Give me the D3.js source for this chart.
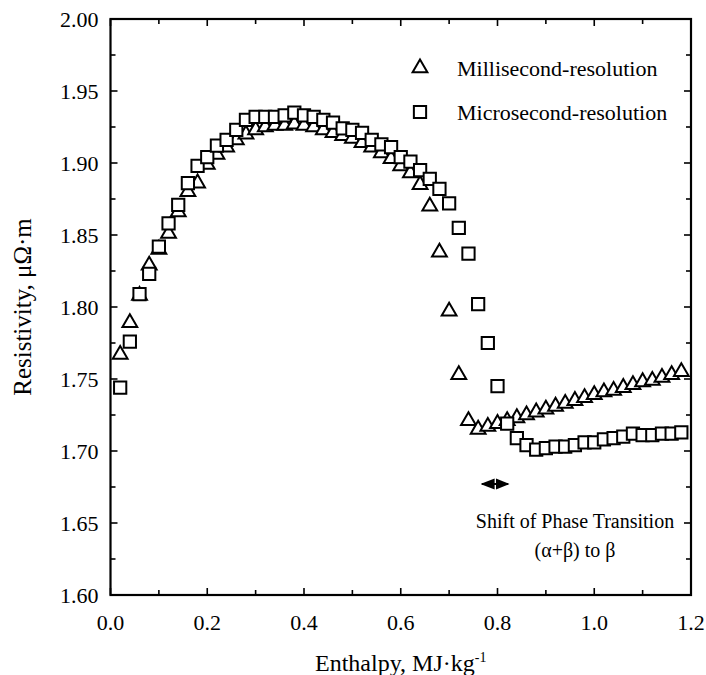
<!DOCTYPE html>
<html><head><meta charset="utf-8">
<script src="https://cdn.jsdelivr.net/npm/d3@7"></script>
<style>body{margin:0;background:#fff}svg{display:block}text{font-family:"Liberation Serif","Times New Roman",serif;fill:#000}</style>
</head><body><div id="chart"></div>
<script>
const msX = [0.02,0.04,0.06,0.08,0.10,0.12,0.14,0.16,0.18,0.20,0.22,0.24,0.26,0.28,0.30,0.32,0.34,0.36,0.38,0.40,0.42,0.44,0.46,0.48,0.50,0.52,0.54,0.56,0.58,0.60,0.62,0.64,0.66,0.68,0.70,0.72,0.74,0.76,0.78,0.80,0.82,0.84,0.86,0.88,0.90,0.92,0.94,0.96,0.98,1.00,1.02,1.04,1.06,1.08,1.10,1.12,1.14,1.16,1.18];
const msY = [1.767,1.789,1.808,1.829,1.840,1.851,1.866,1.880,1.886,1.899,1.906,1.911,1.916,1.920,1.923,1.925,1.926,1.926,1.927,1.926,1.925,1.923,1.921,1.919,1.917,1.914,1.911,1.907,1.903,1.898,1.893,1.885,1.870,1.838,1.797,1.753,1.721,1.715,1.717,1.719,1.721,1.723,1.725,1.727,1.729,1.731,1.733,1.735,1.737,1.739,1.741,1.742,1.744,1.746,1.748,1.749,1.751,1.753,1.755];
const usX = [0.02,0.04,0.06,0.08,0.10,0.12,0.14,0.16,0.18,0.20,0.22,0.24,0.26,0.28,0.30,0.32,0.34,0.36,0.38,0.40,0.42,0.44,0.46,0.48,0.50,0.52,0.54,0.56,0.58,0.60,0.62,0.64,0.66,0.68,0.70,0.72,0.74,0.76,0.78,0.80,0.82,0.84,0.86,0.88,0.90,0.92,0.94,0.96,0.98,1.00,1.02,1.04,1.06,1.08,1.10,1.12,1.14,1.16,1.18];
const usY = [1.744,1.776,1.809,1.823,1.842,1.858,1.871,1.886,1.898,1.904,1.912,1.916,1.923,1.930,1.932,1.932,1.932,1.933,1.935,1.933,1.932,1.930,1.928,1.924,1.923,1.921,1.916,1.913,1.911,1.904,1.901,1.895,1.889,1.882,1.872,1.855,1.837,1.802,1.775,1.745,1.719,1.709,1.704,1.701,1.702,1.703,1.703,1.704,1.706,1.706,1.708,1.709,1.710,1.712,1.711,1.711,1.712,1.712,1.713];
const xTicks = [0.0,0.2,0.4,0.6,0.8,1.0,1.2];
const yTicks = [1.60,1.65,1.70,1.75,1.80,1.85,1.90,1.95,2.00];
const seriesNames = ["Millisecond-resolution","Microsecond-resolution"];
const xTitle = "Enthalpy, MJ\u00B7kg";
const yTitle = "Resistivity, \u03BC\u03A9\u00B7m";
const noteLines = ["Shift of Phase Transition","(\u03B1+\u03B2) to \u03B2"];
const arrowRange = [0.768,0.822];

const W=706,H=675, L=110.5, R=691, T=19, B=595;
const svg=d3.select("#chart").append("svg").attr("width",W).attr("height",H);
const x=d3.scaleLinear().domain([0,1.2]).range([L,R]);
const y=d3.scaleLinear().domain([1.60,2.00]).range([B,T]);

const minorX=d3.range(0,13).map(i=>i*0.1);
const minorY=d3.range(0,17).map(i=>1.6+i*0.025);
const g=svg.append("g");
minorX.forEach((v,i)=>{const len=(i%2===0)?7:5;
  g.append("line").attr("x1",x(v)).attr("x2",x(v)).attr("y1",B).attr("y2",B-len).attr("stroke","#000").attr("stroke-width",1.6);
  g.append("line").attr("x1",x(v)).attr("x2",x(v)).attr("y1",T).attr("y2",T+len).attr("stroke","#000").attr("stroke-width",1.6);});
minorY.forEach((v,i)=>{const len=(i%2===0)?7:5;
  g.append("line").attr("x1",L).attr("x2",L+len).attr("y1",y(v)).attr("y2",y(v)).attr("stroke","#000").attr("stroke-width",1.6);
  g.append("line").attr("x1",R).attr("x2",R-len).attr("y1",y(v)).attr("y2",y(v)).attr("stroke","#000").attr("stroke-width",1.6);});
g.append("rect").attr("x",L).attr("y",T).attr("width",R-L).attr("height",B-T).attr("fill","none").attr("stroke","#000").attr("stroke-width",2.2);

svg.selectAll(".xl").data(xTicks).enter().append("text").attr("x",d=>x(d)).attr("y",B+35)
  .attr("text-anchor","middle").attr("font-size",22).text(d=>d.toFixed(1));
svg.selectAll(".yl").data(yTicks).enter().append("text").attr("x",L-12).attr("y",d=>y(d)+7.5)
  .attr("text-anchor","end").attr("font-size",22).text(d=>d.toFixed(2));

const xt=svg.append("text").attr("x",(L+R)/2).attr("y",671).attr("text-anchor","middle").attr("font-size",24).text(xTitle);
xt.append("tspan").attr("dy",-9).attr("font-size",14).text("-1");
svg.append("text").attr("transform",`translate(31,${(T+B)/2}) rotate(-90)`).attr("text-anchor","middle").attr("font-size",25).text(yTitle);

const tri=d3.symbol().type(d3.symbolTriangle).size(95);
const sq=d3.symbol().type(d3.symbolSquare).size(150);
const ms=msX.map((v,i)=>[v,msY[i]]), us=usX.map((v,i)=>[v,usY[i]]);
svg.append("g").selectAll("path").data(ms).enter().append("path").attr("d",tri)
  .attr("transform",d=>`translate(${x(d[0])},${y(d[1])})`).attr("fill","#fff").attr("stroke","#000").attr("stroke-width",2);
svg.append("g").selectAll("path").data(us).enter().append("path").attr("d",sq)
  .attr("transform",d=>`translate(${x(d[0])},${y(d[1])})`).attr("fill","#fff").attr("stroke","#000").attr("stroke-width",2);

// legend
const lg=svg.append("g");
lg.append("path").attr("d",tri).attr("transform","translate(420,68)").attr("fill","#fff").attr("stroke","#000").attr("stroke-width",2);
lg.append("text").attr("x",457).attr("y",75.5).attr("font-size",22).text(seriesNames[0]);
lg.append("path").attr("d",sq).attr("transform","translate(420,112)").attr("fill","#fff").attr("stroke","#000").attr("stroke-width",2);
lg.append("text").attr("x",457).attr("y",119.5).attr("font-size",22).text(seriesNames[1]);

// annotation
const ay=484;
svg.append("defs").append("marker").attr("id","ah").attr("viewBox","0 0 10 10").attr("refX",9).attr("refY",5)
  .attr("markerWidth",7).attr("markerHeight",7).attr("orient","auto-start-reverse")
  .append("path").attr("d","M0,1 L10,5 L0,9 Z").attr("fill","#000");
svg.append("line").attr("x1",x(arrowRange[0])).attr("x2",x(arrowRange[1])).attr("y1",ay).attr("y2",ay)
  .attr("stroke","#000").attr("stroke-width",2).attr("marker-start","url(#ah)").attr("marker-end","url(#ah)");
svg.selectAll(".note").data(noteLines).enter().append("text").attr("x",575).attr("y",(d,i)=>528+i*29)
  .attr("text-anchor","middle").attr("font-size",20).text(d=>d);
</script></body></html>
